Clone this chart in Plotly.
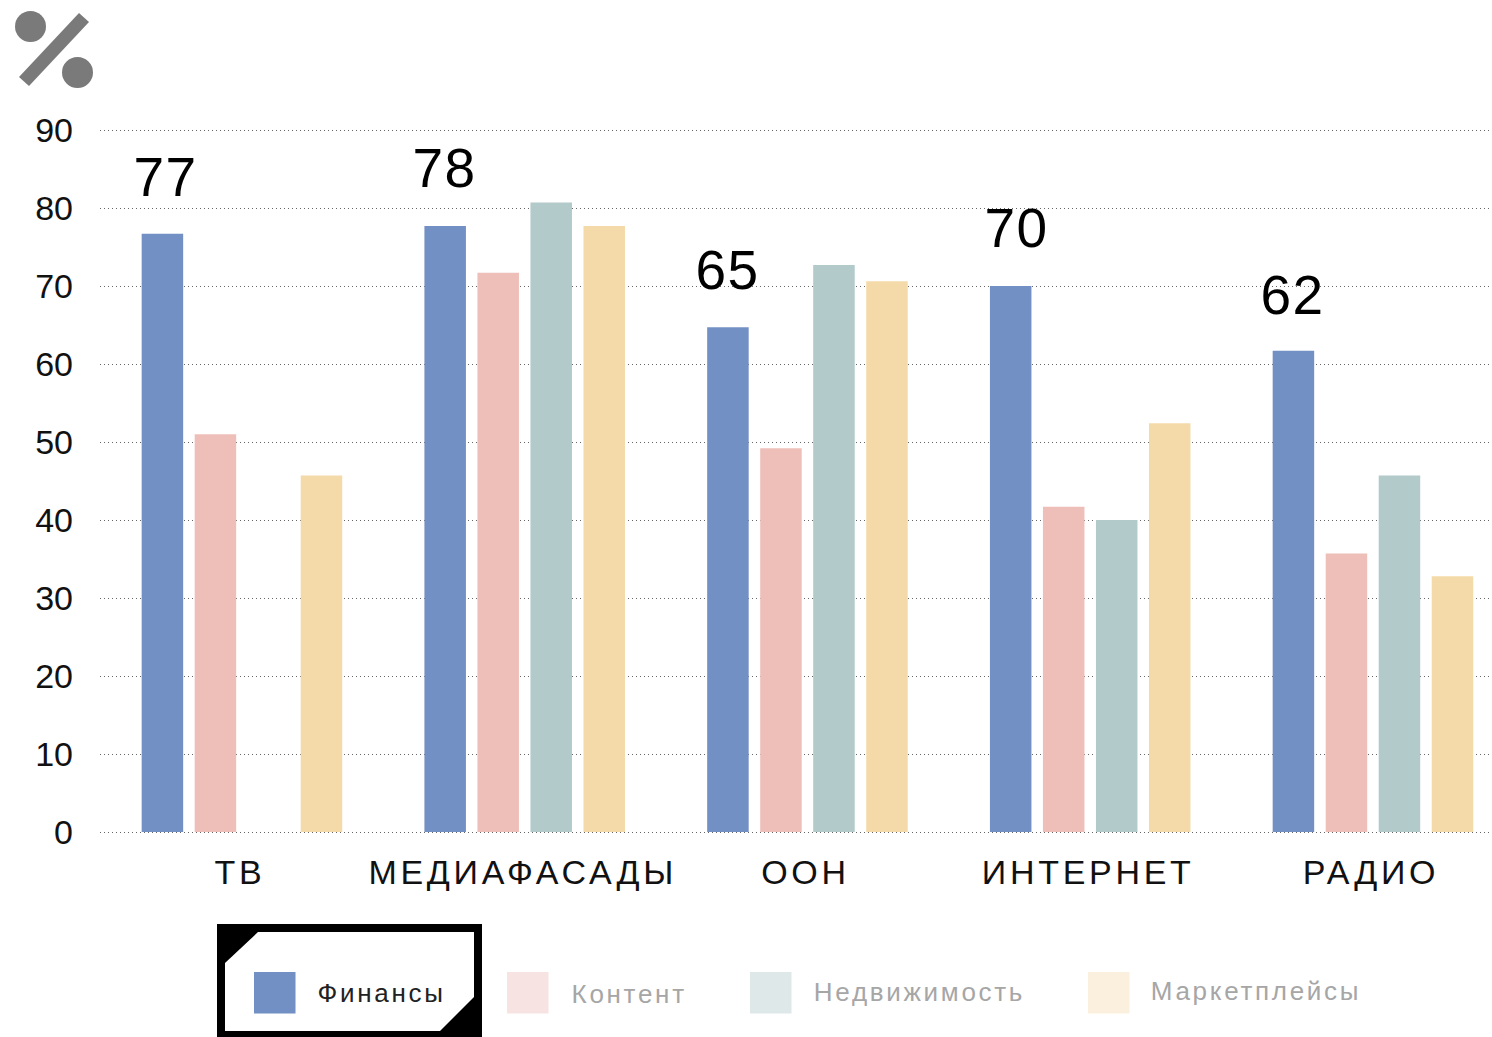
import plotly.graph_objects as go

W, H = 1492, 1037
ML, MR, MT, MB = 100, 0, 128, 203

categories = ["ТВ", "МЕДИАФАСАДЫ", "ООН", "ИНТЕРНЕТ", "РАДИО"]
finance = [76.7, 77.7, 64.7, 70.0, 61.7]
content = [51.0, 71.7, 49.2, 41.7, 35.7]
realty = [None, 80.7, 72.7, 40.0, 45.7]
marketplaces = [45.7, 77.7, 70.6, 52.4, 32.8]
top_labels = ["77", "78", "65", "70", "62"]
label_shift = [3, -1, -1, 5, -1]
label_rise = [37, 38, 37, 38, 36]
series_names = ["Финансы", "Контент", "Недвижимость", "Маркетплейсы"]
series_colors = ["#7390C4", "#EEBFB8", "#B2CAC9", "#F5DAA9"]
swatch_colors = ["#7390C4", "#F7E3E1", "#DFE8E8", "#FBEFDE"]
legend_text_colors = ["#222222", "#A6A6A6", "#A6A6A6", "#A6A6A6"]
swatch_left = [254, 507, 750, 1088]
legend_text_center = [381, 629, 919, 1256]
legend_text_mid = [993, 994, 992, 991]


def to_paper_x(x):
    return (x - ML) / (W - ML - MR)


def to_paper_y(y):
    return (H - MB - y) / (H - MT - MB)


fig = go.Figure()
for name, color, values in zip(series_names, series_colors, [finance, content, realty, marketplaces]):
    fig.add_bar(name=name, x=categories, y=values, marker_color=color, marker_line_width=0)

shapes = []


def poly(points, color):
    path = "M " + " L ".join(f"{to_paper_x(x):.5f} {to_paper_y(y):.5f}" for x, y in points) + " Z"
    shapes.append(dict(type="path", xref="paper", yref="paper", path=path,
                       fillcolor=color, line_width=0, layer="above"))


def rect(x0, y0, x1, y1, color, kind="rect"):
    shapes.append(dict(type=kind, xref="paper", yref="paper",
                       x0=to_paper_x(x0), x1=to_paper_x(x1), y0=to_paper_y(y0), y1=to_paper_y(y1),
                       fillcolor=color, line_width=0, layer="above"))


# percent icon
ICON = "#7A7A7A"
rect(15, 11, 46, 42, ICON, "circle")
rect(62, 57, 93, 88, ICON, "circle")
poly([(79, 13), (89, 22), (29, 86), (19, 77)], ICON)

# active legend frame
rect(217, 924, 482, 1037, "#000000")
poly([(258, 932), (474, 932), (474, 997), (440, 1031), (225, 1031), (225, 963)], "#FFFFFF")
for left, color in zip(swatch_left, swatch_colors):
    rect(left, 972, left + 41.5, 1013.5, color)

annotations = []
for cat, val, text, dx, rise in zip(categories, finance, top_labels, label_shift, label_rise):
    annotations.append(dict(x=cat, y=val, xref="x", yref="y", text=text, showarrow=False,
                            xshift=-79 + dx, yshift=rise + 20,
                            font=dict(size=55, color="#000000")))
for name, cx, cy, color in zip(series_names, legend_text_center, legend_text_mid, legend_text_colors):
    annotations.append(dict(x=to_paper_x(cx), y=to_paper_y(cy), xref="paper", yref="paper", text=name,
                            xanchor="center", yanchor="middle",
                            showarrow=False, font=dict(size=26, color=color)))

fig.update_layout(
    width=W, height=H, autosize=False,
    margin=dict(l=ML, r=MR, t=MT, b=MB, pad=0),
    paper_bgcolor="#FFFFFF", plot_bgcolor="#FFFFFF",
    font=dict(family="Liberation Sans, Arial, sans-serif", color="#000000"),
    barmode="group", bargap=0.25, bargroupgap=0.217,
    showlegend=False, shapes=shapes, annotations=annotations,
)
fig.update_xaxes(type="category", categoryorder="array", categoryarray=categories,
                 range=[-0.502, 4.421], showgrid=False, zeroline=False, showline=False,
                 ticks="", tickfont=dict(size=34, color="#111111"),
                 ticklabelstandoff=15, ticklabelshift=-2)
fig.update_yaxes(range=[-0.2564, 90.2564], tick0=0, dtick=10, showgrid=True, gridcolor="#666666", gridwidth=1,
                 griddash="1px,3px", zeroline=False, showline=False, ticks="",
                 tickfont=dict(size=34, color="#111111"), ticklabelstandoff=26)

post = """
document.body.style.margin='0';
document.documentElement.style.overflow='hidden';
var s=document.createElement('style');
s.textContent='.xtick text{letter-spacing:3.7px} .annotation-text{letter-spacing:2.7px}'
 + ' .annotation[data-index="0"] text,.annotation[data-index="1"] text,.annotation[data-index="2"] text,'
 + '.annotation[data-index="3"] text,.annotation[data-index="4"] text{letter-spacing:1.5px}';
document.head.appendChild(s);
"""
fig.write_html("out.html", post_script=post, config=dict(displayModeBar=False))
